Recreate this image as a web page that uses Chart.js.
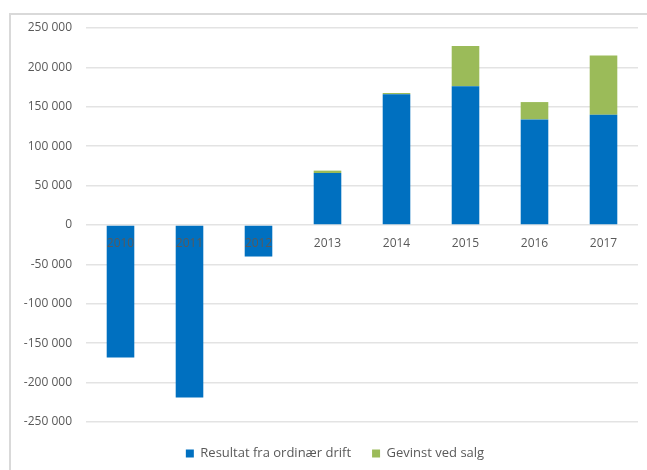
<!DOCTYPE html>
<html>
<head>
<meta charset="utf-8">
<script src="https://cdn.jsdelivr.net/npm/chart.js@4"></script>
<style>
  html, body { margin: 0; padding: 0; background: #fff; overflow: hidden; }
  #frame { position: absolute; left: 9px; top: 13px; width: 700px; height: 500px; border: 2px solid #d9d9d9; box-sizing: border-box; }
  #wrap { position: absolute; left: 0; top: 0; width: 647px; height: 470px; }
</style>
</head>
<body>
<div id="frame"></div>
<div id="wrap"><canvas id="chart" width="647" height="470"></canvas></div>
<script>
// chart data
const years = ['2010', '2011', '2012', '2013', '2014', '2015', '2016', '2017'];
const ordinaryResult = [-168000, -219000, -40000, 66000, 166000, 176000, 134000, 140000];
const saleGain = [0, 0, 0, 3000, 1500, 51000, 22000, 75000];
const seriesNames = ['Resultat fra ordinær drift', 'Gevinst ved salg'];
const yMin = -250000, yMax = 250000, yStep = 50000;

// "250 000" style labels
function formatTick(value) {
    const s = Math.abs(value).toString().replace(/\B(?=(\d{3})+(?!\d))/g, ' ');
    return (value < 0 ? '-' : '') + s;
}

const textColor = '#595959';
const gridColor = '#e3e3e3';
Chart.defaults.font.family = "'Open Sans', 'Liberation Sans', sans-serif";
Chart.defaults.font.size = 12;

// legend sits a bit right of centre in the original
const legendShift = {
    id: 'legendShift',
    afterLayout(chart) {
        chart.legend.left += 16;
        chart.legend.right += 16;
    }
};

const ctx = document.getElementById('chart').getContext('2d');
new Chart(ctx, {
    type: 'bar',
    data: {
        labels: years,
        datasets: [{
            label: seriesNames[0],
            data: ordinaryResult,
            backgroundColor: '#0070C0',
            barPercentage: 0.4,
            categoryPercentage: 1
        }, {
            label: seriesNames[1],
            data: saleGain,
            backgroundColor: '#9BBB59',
            barPercentage: 0.4,
            categoryPercentage: 1
        }]
    },
    options: {
        responsive: false,
        animation: false,
        layout: { padding: { top: 28, right: 9, left: 0, bottom: 0 } },
        plugins: {
            tooltip: { enabled: false },
            legend: {
                position: 'bottom',
                // empty title only to add a little space above the legend
                title: { display: true, text: ' ', font: { size: 4, lineHeight: 1 }, padding: 0 },
                labels: {
                    color: textColor,
                    font: { size: 13 },
                    boxWidth: 8,
                    boxHeight: 8,
                    padding: 21
                }
            }
        },
        scales: {
            x: {
                stacked: true,
                position: { y: 0 },
                grid: { display: false, drawTicks: false },
                border: { display: false },
                ticks: { color: textColor, padding: 11, z: 1 }
            },
            y: {
                stacked: true,
                min: yMin,
                max: yMax,
                afterFit: function(scale) { scale.width = 86; },
                grid: { color: gridColor, lineWidth: 1.5, drawTicks: false },
                border: { display: false },
                ticks: {
                    stepSize: yStep,
                    color: textColor,
                    padding: 14,
                    callback: formatTick
                }
            }
        }
    },
    plugins: [legendShift]
});
</script>
</body>
</html>
